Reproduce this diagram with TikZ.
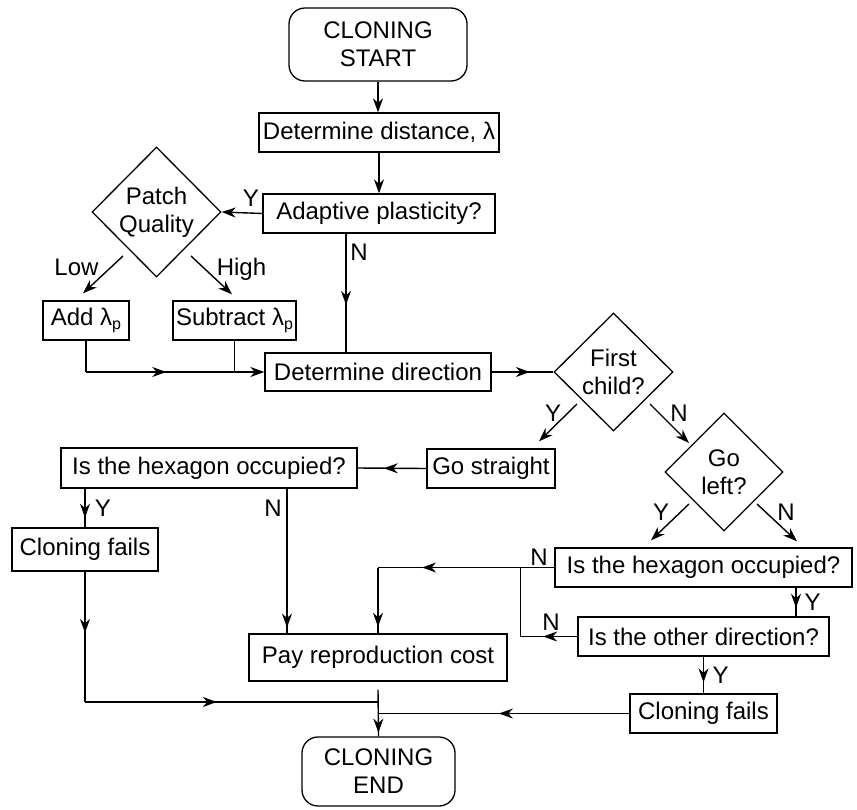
\documentclass[tikz,border=0pt]{standalone}
\usepackage{fontspec}
\setmainfont{Liberation Sans}
\usetikzlibrary{shapes.geometric, arrows.meta, decorations.markings}

% lambda with a lowered, smaller p
\newcommand\lamp{λ\raisebox{-0.3ex}{\fontsize{16}{16}\selectfont p}}

\tikzset{
  x=1pt, y=-1pt,
  every node/.style={font=\fontsize{24}{28}\selectfont, inner sep=0pt},
  flow/.style={draw, line width=1.3pt, align=center},
  stepbox/.style={flow, rectangle},
  term/.style={flow, rectangle, rounded corners=16pt},
  decide/.style={flow, diamond, aspect=1},
  link/.style={line width=1.4pt},
  arr/.style={link, -{Stealth[length=14pt, width=10pt, inset=4.5pt]}},
  midarr/.style={link, postaction={decorate},
    decoration={markings, mark=at position #1 with {\arrow{Stealth[length=14pt, width=10pt, inset=4.5pt]}}}},
  tag/.style={anchor=base},
}

\begin{document}
\begin{tikzpicture}
\useasboundingbox (0,0) rectangle (857,809);

% ---- nodes ----
\node[term, minimum width=178, minimum height=73] (start) at (378,44.5) {CLONING\\START};
\node[stepbox, minimum width=240, minimum height=39] (dist) at (379,132.5) {Determine distance, λ};
\node[stepbox, minimum width=232, minimum height=39] (adapt) at (379,213.5) {Adaptive plasticity?};
\node[decide, minimum width=129, minimum height=130] (pq) at (156.5,212) {Patch\\Quality};
\node[stepbox, minimum width=86, minimum height=39] (add) at (86,320.5) {Add \lamp};
\node[stepbox, minimum width=123, minimum height=39] (sub) at (234.5,320.5) {Subtract \lamp};
\node[stepbox, minimum width=226, minimum height=38] (dir) at (378,372) {Determine direction};
\node[decide, minimum width=119, minimum height=118] (fc) at (613.5,372) {First\\child?};
\node[stepbox, minimum width=128, minimum height=39] (gs) at (491,468.5) {Go straight};
\node[decide, minimum width=118, minimum height=118] (gl) at (724,472) {Go\\left?};
\node[stepbox, minimum width=296, minimum height=40] (hexa) at (209,468) {Is the hexagon occupied?};
\node[stepbox, minimum width=146, minimum height=43] (faila) at (85,549.5) {Cloning fails};
\node[stepbox, minimum width=297, minimum height=39] (hexb) at (703.5,567.5) {Is the hexagon occupied?};
\node[stepbox, minimum width=251, minimum height=39] (other) at (703.5,636.5) {Is the other direction?};
\node[stepbox, minimum width=147, minimum height=39] (failb) at (703.5,713.5) {Cloning fails};
\node[stepbox, minimum width=258, minimum height=47] (pay) at (378,657.5) {Pay reproduction cost};
\node[term, minimum width=153, minimum height=69] (stop) at (378.5,771.5) {CLONING\\END};

% ---- helper coordinates ----
\coordinate (nx) at (346,0);
\coordinate (hn) at (287,0);
\coordinate (hy) at (796,0);
\coordinate (ybus) at (0,702);
\coordinate (jn) at ([shift={(-34,0)}]hexb.west);
\coordinate (addturn) at (add.south |- dir.west);
\coordinate (hbturn) at (pay.north |- hexb.west);

% ---- top chain ----
\draw[arr] (start.south) -- (start.south |- dist.north);
\draw[arr] (dist.south -| adapt.north) -- (adapt.north);
\draw[arr] (adapt.west) -- (pq.east);
\node[tag] (ya) at (251,206) {Y};
\draw[midarr=0.6] (adapt.south -| nx) -- (dir.north -| nx);
\node[tag] (na) at (359,260) {N};

% ---- patch quality branches ----
\draw[arr] ([shift={(-33.5,44)}]pq.center) -- ([shift={(-3,-7)}]add.north);
\node[tag] (low) at (76.5,275) {Low};
\draw[arr] ([shift={(34.5,44)}]pq.center) -- ([shift={(-2.5,-6)}]sub.north);
\node[tag] (high) at (241.5,275) {High};
\draw[link] (add.south) -- (addturn);
\draw[midarr=0.45, arr] (addturn) -- (dir.west);
\draw[link] (sub.south) -- (sub.south |- dir.west);

% ---- direction ----
\draw[midarr=0.62] (dir.east) -- (fc.west);
\draw[arr] ([shift={(-36.5,32)}]fc.center) -- ([shift={(48,-7)}]gs.north);
\node[tag] (yfc) at (553,421) {Y};
\draw[arr] ([shift={(36.5,32)}]fc.center) -- ([shift={(-35,-29)}]gl.center);
\node[tag] (nfc) at (679,421) {N};
\draw[arr] ([shift={(-35,32)}]gl.center) -- ([shift={(-52.5,-7)}]hexb.north);
\node[tag] (ygl) at (661,520) {Y};
\draw[arr] ([shift={(33,32)}]gl.center) -- ([shift={(93.5,-6)}]hexb.north);
\node[tag] (ngl) at (786,520) {N};

% ---- straight branch ----
\draw[midarr=0.62] (gs.west) -- (hexa.east);
\draw[midarr=0.75] (faila.north |- hexa.south) -- (faila.north);
\node[tag] (yha) at (103,516) {Y};
\draw[midarr=0.96] (hexa.south -| hn) -- (pay.north -| hn);
\node[tag] (nha) at (273,516) {N};
\draw[midarr=0.47] (faila.south) -- (faila.south |- ybus);
\draw[midarr=0.45] (faila.south |- ybus) -- (pay.south |- ybus);

% ---- turning branch ----
\draw[midarr=0.75] (hexb.west) -- (hbturn);
\draw[midarr=0.9] (hbturn) -- (pay.north);
\node[tag] (nhb) at (539,565) {N};
\draw[midarr=0.6] (other.west) -- (other.west -| jn);
\draw[link] (other.west -| jn) -- (jn);
\node[tag] (not) at (551,630) {N};
\draw[midarr=0.7] (hexb.south -| hy) -- (other.north -| hy);
\node[tag] (yhb) at (812.5,610) {Y};
\draw[midarr=0.7] (other.south -| failb.north) -- (failb.north);
\node[tag] (yot) at (720.5,683) {Y};
\draw[midarr=0.52] (failb.west) -- (failb.west -| stop.north);

% ---- end ----
\draw[midarr=0.92] ([shift={(0,8)}]pay.south) -- (stop.north);
\end{tikzpicture}
\end{document}
